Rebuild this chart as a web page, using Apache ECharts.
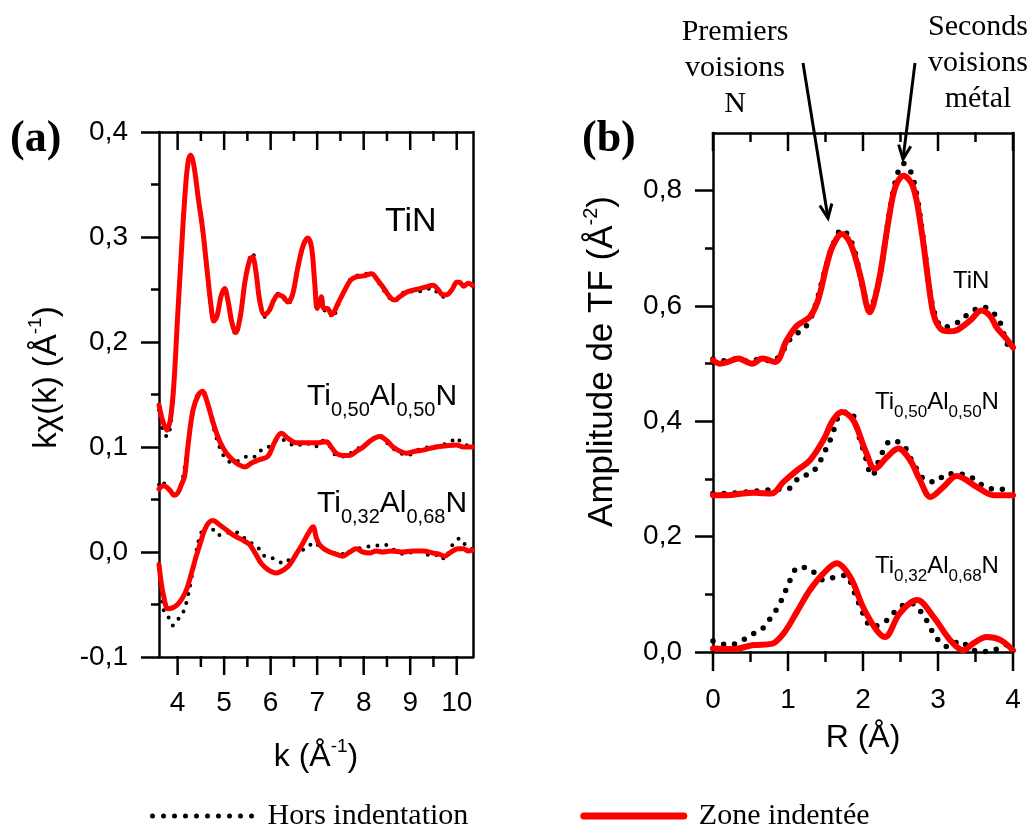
<!DOCTYPE html>
<html><head><meta charset="utf-8">
<script src="https://cdn.jsdelivr.net/npm/echarts@6/dist/echarts.min.js"></script>
<style>html,body{margin:0;padding:0;background:#fff}#c{width:1035px;height:829px}</style>
</head><body><div id="c"></div>
<script>
// ---------- Panel (a): k-space, [k (1/Å), kχ(k)] ----------
const aTiN_fit = [[3.60,0.140],[3.68,0.125],[3.77,0.116],[3.85,0.128],[3.92,0.160],[4.00,0.224],[4.08,0.285],[4.15,0.335],[4.22,0.370],[4.28,0.378],[4.35,0.368],[4.45,0.335],[4.54,0.307],[4.63,0.270],[4.72,0.234],[4.78,0.220],[4.85,0.225],[4.93,0.243],[5.01,0.251],[5.08,0.240],[5.17,0.218],[5.25,0.209],[5.35,0.225],[5.45,0.258],[5.55,0.278],[5.61,0.281],[5.68,0.268],[5.77,0.238],[5.87,0.226],[5.97,0.230],[6.07,0.240],[6.16,0.245],[6.27,0.243],[6.37,0.238],[6.47,0.245],[6.58,0.270],[6.70,0.292],[6.80,0.299],[6.88,0.290],[6.95,0.255],[7.00,0.232],[7.05,0.238],[7.09,0.243],[7.14,0.232],[7.22,0.232],[7.31,0.226],[7.45,0.237],[7.60,0.250],[7.72,0.259],[7.84,0.262],[8.00,0.263],[8.17,0.265],[8.30,0.259],[8.45,0.250],[8.58,0.242],[8.67,0.240],[8.80,0.244],[8.95,0.248],[9.13,0.250],[9.30,0.252],[9.49,0.254],[9.60,0.250],[9.70,0.245],[9.78,0.245],[9.90,0.250],[10.00,0.257],[10.06,0.257],[10.15,0.253],[10.25,0.256],[10.34,0.254]];
const aTiN_ref = [[3.60,0.135],[3.66,0.120],[3.72,0.112],[3.78,0.110],[3.85,0.122],[3.92,0.158],[4.00,0.222],[4.08,0.285],[4.15,0.336],[4.22,0.371],[4.28,0.377],[4.35,0.368],[4.45,0.336],[4.54,0.305],[4.63,0.268],[4.72,0.232],[4.78,0.219],[4.85,0.225],[4.93,0.244],[5.01,0.250],[5.08,0.240],[5.17,0.217],[5.25,0.207],[5.35,0.224],[5.45,0.258],[5.55,0.280],[5.61,0.285],[5.68,0.270],[5.77,0.238],[5.87,0.224],[5.97,0.229],[6.07,0.240],[6.16,0.246],[6.27,0.242],[6.37,0.236],[6.47,0.244],[6.58,0.269],[6.70,0.292],[6.80,0.298],[6.88,0.290],[6.95,0.253],[7.00,0.230],[7.05,0.237],[7.10,0.240],[7.16,0.230],[7.24,0.230],[7.33,0.223],[7.45,0.235],[7.60,0.250],[7.72,0.260],[7.84,0.263],[8.00,0.265],[8.17,0.265],[8.30,0.258],[8.45,0.248],[8.58,0.241],[8.67,0.239],[8.80,0.245],[8.95,0.249],[9.13,0.247],[9.30,0.250],[9.49,0.251],[9.60,0.246],[9.70,0.243],[9.80,0.244],[9.90,0.250],[10.00,0.256],[10.10,0.254],[10.20,0.253],[10.34,0.254]];
const aTi50_fit = [[3.60,0.060],[3.70,0.063],[3.83,0.059],[3.93,0.054],[4.00,0.056],[4.08,0.064],[4.15,0.072],[4.22,0.100],[4.33,0.135],[4.45,0.150],[4.54,0.153],[4.62,0.145],[4.70,0.133],[4.80,0.118],[4.92,0.104],[5.05,0.094],[5.20,0.087],[5.32,0.083],[5.44,0.081],[5.60,0.085],[5.76,0.088],[5.94,0.091],[6.08,0.104],[6.23,0.113],[6.38,0.108],[6.55,0.104],[6.75,0.104],[6.98,0.104],[7.20,0.105],[7.30,0.100],[7.41,0.094],[7.55,0.092],[7.70,0.092],[7.85,0.096],[7.99,0.100],[8.15,0.106],[8.34,0.110],[8.50,0.106],[8.63,0.100],[8.78,0.096],[8.92,0.094],[9.10,0.096],[9.28,0.097],[9.45,0.099],[9.56,0.100],[9.75,0.101],[9.99,0.102],[10.15,0.100],[10.34,0.100]];
const aTi50_ref = [[3.60,0.064],[3.65,0.068],[3.75,0.063],[3.85,0.058],[3.95,0.055],[4.05,0.060],[4.15,0.080],[4.25,0.110],[4.35,0.138],[4.45,0.150],[4.55,0.150],[4.65,0.140],[4.80,0.114],[4.92,0.098],[5.05,0.088],[5.20,0.085],[5.35,0.088],[5.51,0.091],[5.62,0.090],[5.76,0.096],[5.90,0.098],[6.05,0.104],[6.20,0.108],[6.35,0.105],[6.55,0.101],[6.75,0.104],[6.95,0.100],[7.10,0.106],[7.25,0.102],[7.41,0.092],[7.60,0.091],[7.80,0.097],[7.99,0.101],[8.20,0.108],[8.34,0.111],[8.50,0.104],[8.65,0.098],[8.80,0.094],[8.95,0.092],[9.10,0.096],[9.30,0.099],[9.50,0.100],[9.70,0.102],[9.90,0.106],[10.00,0.109],[10.10,0.104],[10.34,0.100]];
const aTi32_fit = [[3.60,-0.012],[3.65,-0.030],[3.70,-0.042],[3.79,-0.054],[3.90,-0.053],[4.00,-0.050],[4.10,-0.044],[4.19,-0.036],[4.30,-0.020],[4.40,-0.004],[4.50,0.010],[4.58,0.021],[4.67,0.028],[4.76,0.030],[4.90,0.026],[5.05,0.021],[5.20,0.016],[5.33,0.013],[5.45,0.010],[5.55,0.007],[5.68,-0.002],[5.80,-0.011],[5.95,-0.017],[6.12,-0.020],[6.28,-0.017],[6.41,-0.012],[6.55,-0.002],[6.69,0.008],[6.80,0.017],[6.91,0.024],[6.98,0.014],[7.05,0.007],[7.15,0.003],[7.27,0.000],[7.40,-0.002],[7.55,-0.004],[7.70,0.000],[7.84,0.003],[7.98,0.000],[8.13,-0.001],[8.27,0.001],[8.41,0.000],[8.60,0.001],[8.85,0.000],[9.05,0.001],[9.28,0.001],[9.49,-0.001],[9.62,-0.002],[9.74,-0.004],[9.88,0.000],[10.03,0.003],[10.15,0.003],[10.25,0.001],[10.34,0.002]];
const aTi32_ref = [[3.62,-0.030],[3.68,-0.050],[3.72,-0.058],[3.80,-0.062],[3.86,-0.068],[3.90,-0.070],[3.98,-0.065],[4.06,-0.062],[4.15,-0.054],[4.22,-0.042],[4.29,-0.027],[4.38,-0.005],[4.46,0.012],[4.55,0.022],[4.65,0.026],[4.75,0.022],[4.87,0.016],[5.00,0.017],[5.06,0.018],[5.15,0.019],[5.25,0.019],[5.35,0.016],[5.44,0.013],[5.60,0.008],[5.73,0.004],[5.87,-0.004],[5.98,-0.005],[6.09,-0.007],[6.18,-0.009],[6.27,-0.011],[6.38,-0.008],[6.48,-0.005],[6.58,-0.001],[6.66,0.001],[6.80,0.005],[6.94,0.009],[7.08,0.004],[7.23,0.001],[7.40,-0.001],[7.59,-0.002],[7.80,0.002],[7.95,0.004],[8.06,0.005],[8.25,0.006],[8.45,0.007],[8.65,0.002],[8.88,-0.002],[9.05,0.000],[9.20,0.001],[9.35,-0.002],[9.49,-0.004],[9.62,-0.002],[9.74,-0.007],[9.85,0.002],[9.96,0.010],[10.07,0.013],[10.20,0.006],[10.34,0.003]];

// ---------- Panel (b): R-space, [R (Å), amplitude] ----------
const bTiN_fit = [[0.00,0.506],[0.09,0.500],[0.20,0.503],[0.34,0.509],[0.45,0.503],[0.52,0.500],[0.66,0.509],[0.83,0.503],[0.98,0.540],[1.12,0.566],[1.29,0.581],[1.40,0.610],[1.52,0.673],[1.60,0.705],[1.72,0.725],[1.80,0.716],[1.87,0.696],[1.98,0.644],[2.05,0.600],[2.09,0.589],[2.14,0.603],[2.23,0.656],[2.34,0.748],[2.43,0.806],[2.54,0.826],[2.67,0.806],[2.78,0.731],[2.87,0.644],[2.94,0.586],[3.03,0.561],[3.15,0.556],[3.25,0.558],[3.43,0.575],[3.58,0.592],[3.70,0.582],[3.78,0.563],[3.90,0.545],[4.00,0.528]];
const bTiN_ref = [[0.00,0.508],[0.15,0.505],[0.30,0.508],[0.45,0.505],[0.60,0.507],[0.80,0.505],[0.92,0.520],[1.05,0.546],[1.23,0.563],[1.35,0.595],[1.50,0.665],[1.60,0.706],[1.72,0.733],[1.82,0.718],[1.90,0.690],[2.00,0.630],[2.09,0.595],[2.15,0.612],[2.25,0.670],[2.35,0.760],[2.45,0.825],[2.54,0.847],[2.63,0.835],[2.72,0.790],[2.82,0.700],[2.92,0.605],[3.07,0.563],[3.27,0.572],[3.43,0.589],[3.60,0.598],[3.80,0.578],[3.92,0.535],[4.00,0.525]];
const bTi50_fit = [[0.00,0.272],[0.19,0.272],[0.40,0.275],[0.54,0.276],[0.78,0.275],[0.94,0.295],[1.12,0.315],[1.29,0.332],[1.47,0.367],[1.60,0.402],[1.72,0.416],[1.87,0.402],[2.03,0.350],[2.16,0.318],[2.32,0.338],[2.47,0.353],[2.63,0.332],[2.76,0.298],[2.90,0.269],[3.07,0.286],[3.25,0.305],[3.52,0.286],[3.74,0.272],[4.00,0.272]];
const bTi50_ref = [[0.00,0.275],[0.15,0.275],[0.40,0.277],[0.66,0.280],[0.80,0.282],[1.00,0.283],[1.16,0.304],[1.31,0.310],[1.41,0.327],[1.50,0.350],[1.58,0.373],[1.70,0.413],[1.83,0.416],[1.94,0.376],[2.02,0.344],[2.12,0.306],[2.25,0.344],[2.38,0.367],[2.54,0.358],[2.67,0.327],[2.84,0.297],[2.96,0.295],[3.12,0.309],[3.27,0.309],[3.44,0.303],[3.62,0.287],[3.80,0.282],[4.00,0.283]];
const bTi32_fit = [[0.00,0.006],[0.26,0.005],[0.54,0.012],[0.78,0.014],[0.94,0.032],[1.12,0.070],[1.29,0.107],[1.47,0.136],[1.65,0.154],[1.83,0.130],[2.00,0.078],[2.18,0.038],[2.29,0.026],[2.49,0.067],[2.72,0.090],[2.94,0.061],[3.16,0.021],[3.34,0.003],[3.47,0.015],[3.65,0.026],[3.83,0.021],[4.00,0.003]];
const bTi32_ref = [[0.00,0.019],[0.18,0.013],[0.34,0.016],[0.49,0.029],[0.64,0.038],[0.78,0.061],[0.88,0.081],[0.96,0.104],[1.03,0.125],[1.14,0.147],[1.29,0.144],[1.47,0.125],[1.63,0.130],[1.76,0.133],[1.89,0.102],[2.00,0.067],[2.12,0.044],[2.32,0.055],[2.47,0.076],[2.63,0.085],[2.79,0.067],[2.89,0.044],[2.98,0.024],[3.14,0.009],[3.29,0.019],[3.45,0.004],[3.63,0.001],[3.80,0.006],[4.00,0.019]];

// ---------- ticks ----------
const kMajor = [4,5,6,7,8,9,10];
const kMinor = [4.5,5.5,6.5,7.5,8.5,9.5];
const rMajor = [0,1,2,3,4];
const rMinor = [0.5,1.5,2.5,3.5];
const ampMajor = [0,0.2,0.4,0.6,0.8];
const ampMinor = [0.1,0.3,0.5,0.7];

const NAME_REF = 'Hors indentation';
const NAME_FIT = 'Zone indentée';
const FONT = 'Liberation Sans';
const BLACK = '#000';
const RED = '#ff0000';
const AXW = 2.5;

const comma = v => (Math.abs(v) < 1e-9 ? 0 : v).toFixed(1).replace('.', ',');
const lineStyleAx = {color: BLACK, width: AXW};
const tickStyle = {color: BLACK, width: AXW};
const labelStyle = {color: BLACK, fontFamily: FONT, fontSize: 28};

const chart = echarts.init(document.getElementById('c'), null, {renderer: 'canvas'});

const rectA = {left: 159, top: 132, width: 314, height: 525};
const rectB = {left: 713, top: 133, width: 300, height: 519};
const grids = [rectA, rectA, rectB, rectB, rectB].map(r => Object.assign({}, r));

const KMIN = 3.6, KMAX = 10.35, RMIN = 0, RMAX = 4;
function deco(base) {
  return Object.assign({type: 'value', splitLine: {show: false}, axisLabel: {show: false},
    axisTick: {show: false}, axisLine: {show: false, onZero: false}}, base);
}
const frameLine = () => ({show: true, onZero: false, lineStyle: lineStyleAx});

const xAxes = [
  {gridIndex: 0, type: 'value', position: 'bottom', min: KMIN, max: KMAX,
   axisLine: frameLine(), axisTick: {show: false},
   axisLabel: Object.assign({customValues: kMajor, margin: 32}, labelStyle),
   splitLine: {show: false},
   name: '{n|k (Å}{s|-1}{n|)}', nameLocation: 'middle', nameGap: 80,
   nameTextStyle: {rich: {n: {fontFamily: FONT, fontSize: 32, color: BLACK, lineHeight: 36, verticalAlign: 'bottom'},
                           s: {fontFamily: FONT, fontSize: 19, color: BLACK, lineHeight: 19, verticalAlign: 'top'}}}},
  deco({gridIndex: 1, position: 'top', min: KMIN, max: KMAX, axisLine: frameLine()}),
  {gridIndex: 2, type: 'value', position: 'bottom', min: RMIN, max: RMAX, interval: 1,
   axisLine: frameLine(), axisTick: {show: false},
   axisLabel: Object.assign({margin: 34}, labelStyle),
   splitLine: {show: false},
   name: 'R (Å)', nameLocation: 'middle', nameGap: 70,
   nameTextStyle: {fontFamily: FONT, fontSize: 32, color: BLACK}},
  deco({gridIndex: 3, position: 'top', min: RMIN, max: RMAX, axisLine: frameLine()}),
  {gridIndex: 4, type: 'value', min: 1, max: 2, show: false}
];

const yAxes = [
  {gridIndex: 0, type: 'value', position: 'left', min: -0.1, max: 0.4, interval: 0.1,
   axisLine: frameLine(),
   axisTick: {show: true, length: 18, lineStyle: tickStyle},
   minorTick: {show: true, splitNumber: 2, length: 8, lineStyle: tickStyle},
   axisLabel: Object.assign({margin: 31, formatter: comma}, labelStyle),
   splitLine: {show: false}, minorSplitLine: {show: false},
   name: '{n|kχ(k) (Å}{s|-1}{n|)}', nameLocation: 'middle', nameGap: 96, nameRotate: 90,
   nameTextStyle: {padding: [0, 0, 0, 34],
     rich: {n: {fontFamily: FONT, fontSize: 33, color: BLACK, lineHeight: 37, verticalAlign: 'bottom'},
            s: {fontFamily: FONT, fontSize: 19, color: BLACK, lineHeight: 19, verticalAlign: 'top'}}}},
  deco({gridIndex: 1, position: 'right', min: -0.1, max: 0.4, axisLine: frameLine()}),
  {gridIndex: 2, type: 'value', position: 'left', min: 0, max: 0.9,
   axisLine: frameLine(),
   axisTick: {show: true, customValues: ampMajor, length: 18, lineStyle: tickStyle},
   axisLabel: Object.assign({customValues: ampMajor, margin: 31, formatter: comma}, labelStyle),
   splitLine: {show: false},
   name: '{n|Amplitude de TF (Å}{s|-2}{n|)}', nameLocation: 'middle', nameGap: 93, nameRotate: 90,
   nameTextStyle: {padding: [0, 0, 0, 62],
     rich: {n: {fontFamily: FONT, fontSize: 35, color: BLACK, lineHeight: 39, verticalAlign: 'bottom'},
            s: {fontFamily: FONT, fontSize: 20, color: BLACK, lineHeight: 20, verticalAlign: 'top'}}}},
  deco({gridIndex: 3, position: 'right', min: 0, max: 0.9, axisLine: frameLine()}),
  deco({gridIndex: 4, position: 'left', min: 0, max: 0.9,
   axisTick: {show: true, customValues: ampMinor, length: 8, lineStyle: tickStyle}})
];

function refSeries(data, xi, yi, w, gap) {
  return {type: 'line', name: NAME_REF, data: data, xAxisIndex: xi, yAxisIndex: yi,
    smooth: 0.35, symbol: 'none', showSymbol: false, silent: true, z: 2,
    itemStyle: {color: BLACK},
    lineStyle: {color: BLACK, width: w, type: [0, gap], cap: 'round'}};
}
function fitSeries(data, xi, yi, w) {
  return {type: 'line', name: NAME_FIT, data: data, xAxisIndex: xi, yAxisIndex: yi,
    smooth: 0.35, symbol: 'none', showSymbol: false, silent: true, z: 3,
    itemStyle: {color: RED},
    lineStyle: {color: RED, width: w, cap: 'round', join: 'round'}};
}

const series = [
  refSeries(aTiN_ref, 0, 0, 4, 9), refSeries(aTi50_ref, 0, 0, 4, 9), refSeries(aTi32_ref, 0, 0, 4, 9),
  refSeries(bTiN_ref, 2, 2, 5.5, 11), refSeries(bTi50_ref, 2, 2, 5.5, 11), refSeries(bTi32_ref, 2, 2, 5.5, 11),
  fitSeries(aTiN_fit, 0, 0, 5), fitSeries(aTi50_fit, 0, 0, 5), fitSeries(aTi32_fit, 0, 0, 5),
  fitSeries(bTiN_fit, 2, 2, 6), fitSeries(bTi50_fit, 2, 2, 6), fitSeries(bTi32_fit, 2, 2, 6)
];

// ---------- annotations ----------
function subLabel(parts, x, y, big, small, shift) {
  const rich = {
    m: {fontFamily: FONT, fontSize: big, fill: BLACK, lineHeight: big, verticalAlign: 'top'},
    s: {fontFamily: FONT, fontSize: small, fill: BLACK, lineHeight: small, verticalAlign: 'top', padding: [shift, 0, 0, 0]}
  };
  const text = parts.map(p => '{' + p[0] + '|' + p[1] + '}').join('');
  return {type: 'text', x: x, y: y, style: {text: text, rich: rich, fill: BLACK}};
}
const TI50 = [['m','Ti'],['s','0,50'],['m','Al'],['s','0,50'],['m','N']];
const TI32 = [['m','Ti'],['s','0,32'],['m','Al'],['s','0,68'],['m','N']];

function arrow(x1, y1, x2, y2) {
  const dx = x2 - x1, dy = y2 - y1, L = Math.hypot(dx, dy);
  const ux = dx / L, uy = dy / L, a = 0.42, h = 15;
  const r = (c, s) => [x2 - h * (ux * c - uy * s), y2 - h * (uy * c + ux * s)];
  const p1 = r(Math.cos(a), Math.sin(a)), p2 = r(Math.cos(a), -Math.sin(a));
  return [
    {type: 'line', shape: {x1: x1, y1: y1, x2: x2, y2: y2}, style: {stroke: BLACK, lineWidth: 3}},
    {type: 'polyline', shape: {points: [p1, [x2, y2], p2]}, style: {stroke: BLACK, lineWidth: 3, fill: null}}
  ];
}

// x-axis tick marks as thin filled bars, from axis ranges and grid rectangles
function xTicks(rect, vmin, vmax, values, atTop, len) {
  const y0 = atTop ? rect.top : rect.top + rect.height;
  return values.map(v => {
    const x = rect.left + (v - vmin) / (vmax - vmin) * rect.width;
    return {type: 'rect', z: 100, shape: {x: x - AXW / 2, y: y0 - 1, width: AXW, height: len + 1},
      style: {fill: BLACK}};
  });
}

const serif = 'Liberation Serif';
const graphics = [
  {type: 'text', x: 10, y: 140, style: {text: '(a)', font: 'bold 44px "' + serif + '"', fill: BLACK, verticalAlign: 'middle'}},
  {type: 'text', x: 582, y: 140, style: {text: '(b)', font: 'bold 44px "' + serif + '"', fill: BLACK, verticalAlign: 'middle'}},
  {type: 'text', x: 385, y: 222, style: {text: 'TiN', font: '34px "' + FONT + '"', fill: BLACK, verticalAlign: 'middle'}},
  subLabel(TI50, 307, 382, 30, 20, 18),
  subLabel(TI32, 317, 489, 30, 20, 18),
  {type: 'text', x: 953, y: 281, style: {text: 'TiN', font: '24px "' + FONT + '"', fill: BLACK, verticalAlign: 'middle'}},
  subLabel(TI50, 875, 390, 24, 17, 14),
  subLabel(TI32, 875, 554, 24, 17, 14),
  {type: 'text', x: 735, y: 68, style: {text: 'Premiers\nvoisions\nN', font: '30px "' + serif + '"', lineHeight: 36, fill: BLACK, align: 'center', verticalAlign: 'middle'}},
  {type: 'text', x: 978, y: 63, style: {text: 'Seconds\nvoisions\nmétal', font: '30px "' + serif + '"', lineHeight: 36, fill: BLACK, align: 'center', verticalAlign: 'middle'}}
].concat(
  arrow(803, 63, 828, 218), arrow(915, 63, 903, 159),
  xTicks(rectA, KMIN, KMAX, kMajor, false, 18), xTicks(rectA, KMIN, KMAX, kMinor, false, 10),
  xTicks(rectA, KMIN, KMAX, kMajor, true, 18), xTicks(rectA, KMIN, KMAX, kMinor, true, 9),
  xTicks(rectB, RMIN, RMAX, rMajor, false, 19), xTicks(rectB, RMIN, RMAX, rMinor, false, 10),
  xTicks(rectB, RMIN, RMAX, rMajor, true, 18), xTicks(rectB, RMIN, RMAX, rMinor, true, 9)
);

chart.setOption({
  animation: false,
  backgroundColor: '#fff',
  grid: grids,
  xAxis: xAxes,
  yAxis: yAxes,
  legend: {
    left: 145, top: 796, itemWidth: 100, itemHeight: 20, itemGap: 112,
    data: [
      {name: NAME_REF, lineStyle: {width: 5, type: [0, 11], cap: 'round', color: BLACK}},
      {name: NAME_FIT, lineStyle: {width: 7, color: RED}}
    ],
    selectedMode: false,
    itemStyle: {opacity: 0},
    textStyle: {fontFamily: serif, fontSize: 30, color: BLACK, padding: [0, 0, 0, 10]}
  },
  series: series,
  graphic: graphics
});
</script>
</body></html>
